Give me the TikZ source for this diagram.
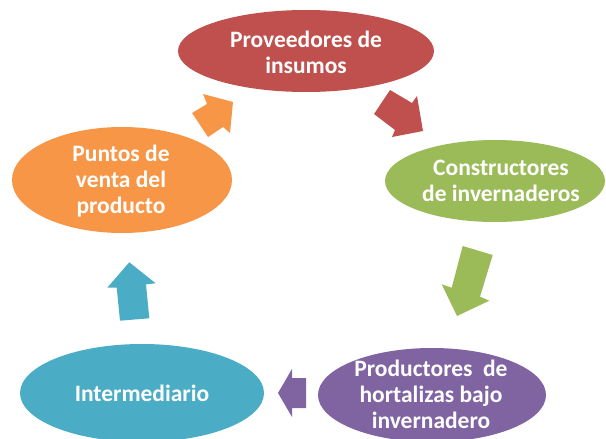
\documentclass[tikz,border=0pt]{standalone}
\usepackage{fontspec}
\setmainfont{Carlito}
\usetikzlibrary{shapes.geometric}
\definecolor{cred}{HTML}{C0504D}
\definecolor{cgreen}{HTML}{9BBB59}
\definecolor{corange}{HTML}{F79646}
\definecolor{cteal}{HTML}{4BACC6}
\definecolor{cpurple}{HTML}{8064A2}
\tikzset{
  ell/.style={ellipse, inner sep=0pt, draw=none},
  txt/.style={text=white, font=\fontsize{23.5}{26}\selectfont\bfseries, align=center, inner sep=0pt},
  blockarrow/.style={draw=none}
}
\begin{document}
\begin{tikzpicture}[x=1pt,y=-1pt]
\useasboundingbox (0,0) rectangle (606,439);
% ellipses
\node[ell, fill=cred, minimum width=256pt, minimum height=82pt] (prov) at (306,51) {};
\node[ell, fill=cgreen, minimum width=220pt, minimum height=82pt] (cons) at (495,181) {};
\node[ell, fill=corange, minimum width=220pt, minimum height=106pt] (punt) at (122,180) {};
\node[ell, fill=cteal, minimum width=244pt, minimum height=98pt] (inter) at (142,393) {};
\node[ell, fill=cpurple, minimum width=228pt, minimum height=94pt] (prod) at (432,395) {};
% texts
\node[txt] (tprov) at (306,52) {Proveedores de\\insumos};
\node[txt] (tcons) at (501,181) {Constructores\\de invernaderos};
\node[txt] (tpunt) at (121,181) {Puntos de\\venta del\\producto};
\node[txt] (tinter) at (142,393) {Intermediario};
\node[txt] (tprod) at (431,394) {Productores~~de\\hortalizas bajo\\invernadero};
% block arrows
\fill[cred] (423,131) -- (417,96) -- (412,103) -- (390,90) -- (374,114) -- (395,130) -- (392,137) -- cycle;
\fill[cgreen] (457,316) -- (441.7,284.3) -- (451.7,287.7) -- (462.7,246) -- (492.7,255) -- (480,296.7) -- (489.3,300.7) -- cycle;
\fill[cpurple] (278,393) -- (292,369) -- (292,378) -- (306,378) -- (306,408) -- (292,408) -- (292,417) -- cycle;
\fill[cteal] (129.3,262.3) -- (155.7,283.3) -- (146,284.3) -- (149.3,318.3) -- (120,320.7) -- (116.7,287.7) -- (107.3,287.7) -- cycle;
\fill[corange] (233,102) -- (203,94) -- (207,104) -- (192,113) -- (208,137) -- (223,127) -- (230,133) -- cycle;
\end{tikzpicture}
\end{document}
